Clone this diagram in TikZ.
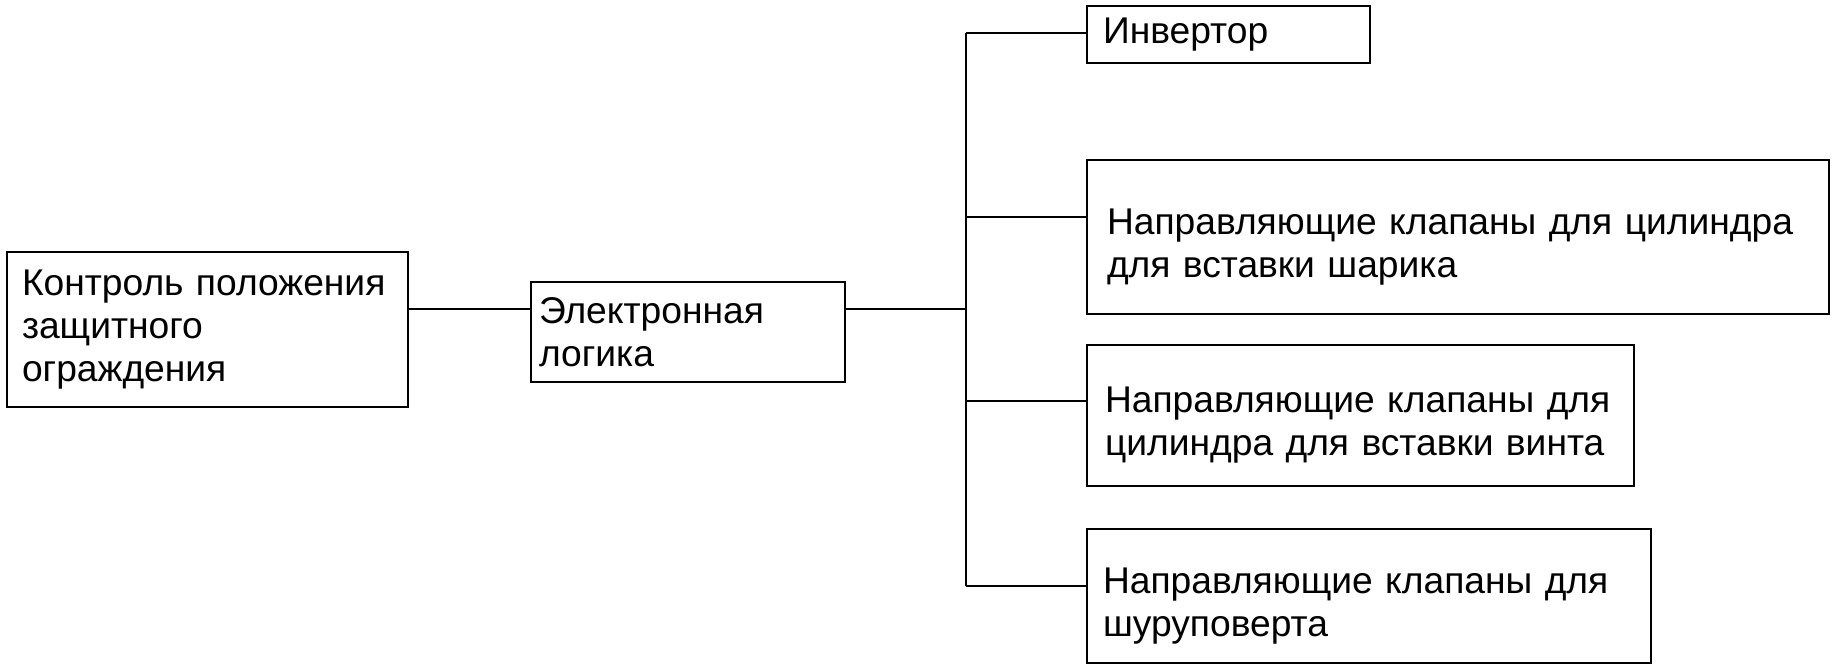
\documentclass[tikz,border=0pt]{standalone}
\usepackage{fontspec}
\setmainfont{Liberation Sans}
\begin{document}
\begin{tikzpicture}[x=0.5pt,y=-0.5pt,line width=1pt,
  box/.style={draw,rectangle,anchor=north west,align=left,inner ysep=0pt,font=\fontsize{18.6}{21.5}\selectfont},
  lowtext/.style={execute at begin node={\rule{0pt}{22.5pt}}}]
\useasboundingbox (0,0) rectangle (1836,669);
\node[box,text width=185.5pt,inner xsep=7.5pt,minimum height=77.5pt] (ctl) at (6,251) {Контроль положения\\защитного\\ограждения};
\node[box,text width=149pt,inner xsep=4pt,minimum height=50pt] (logic) at (530,281) {Электронная\\логика};
\node[box,text width=125.5pt,inner xsep=8pt,minimum height=28.5pt] (inv) at (1086,5) {Инвертор};
\node[box,lowtext,text width=351pt,inner xsep=10pt,minimum height=77pt] (ball) at (1086,159) {Направляющие клапаны для цилиндра\\для вставки шарика};
\node[box,lowtext,text width=255.5pt,inner xsep=9pt,minimum height=70.5pt] (screw) at (1086,344) {Направляющие клапаны для\\цилиндра для вставки винта};
\node[box,lowtext,text width=266pt,inner xsep=8pt,minimum height=67pt] (drv) at (1086,528) {Направляющие клапаны для\\шуруповерта};
\coordinate (in) at (0,309);
\coordinate (bus) at (966,309);
\draw (ctl.east |- in) -- (logic.west |- in);
\draw (logic.east |- in) -- (bus);
\foreach \n/\y in {inv/33,ball/217,screw/401,drv/586}
{
  \coordinate (j\n) at (966,\y);
  \draw (j\n) -- (\n.west |- j\n);
}
\draw (jinv) -- (jdrv);
\end{tikzpicture}
\end{document}
